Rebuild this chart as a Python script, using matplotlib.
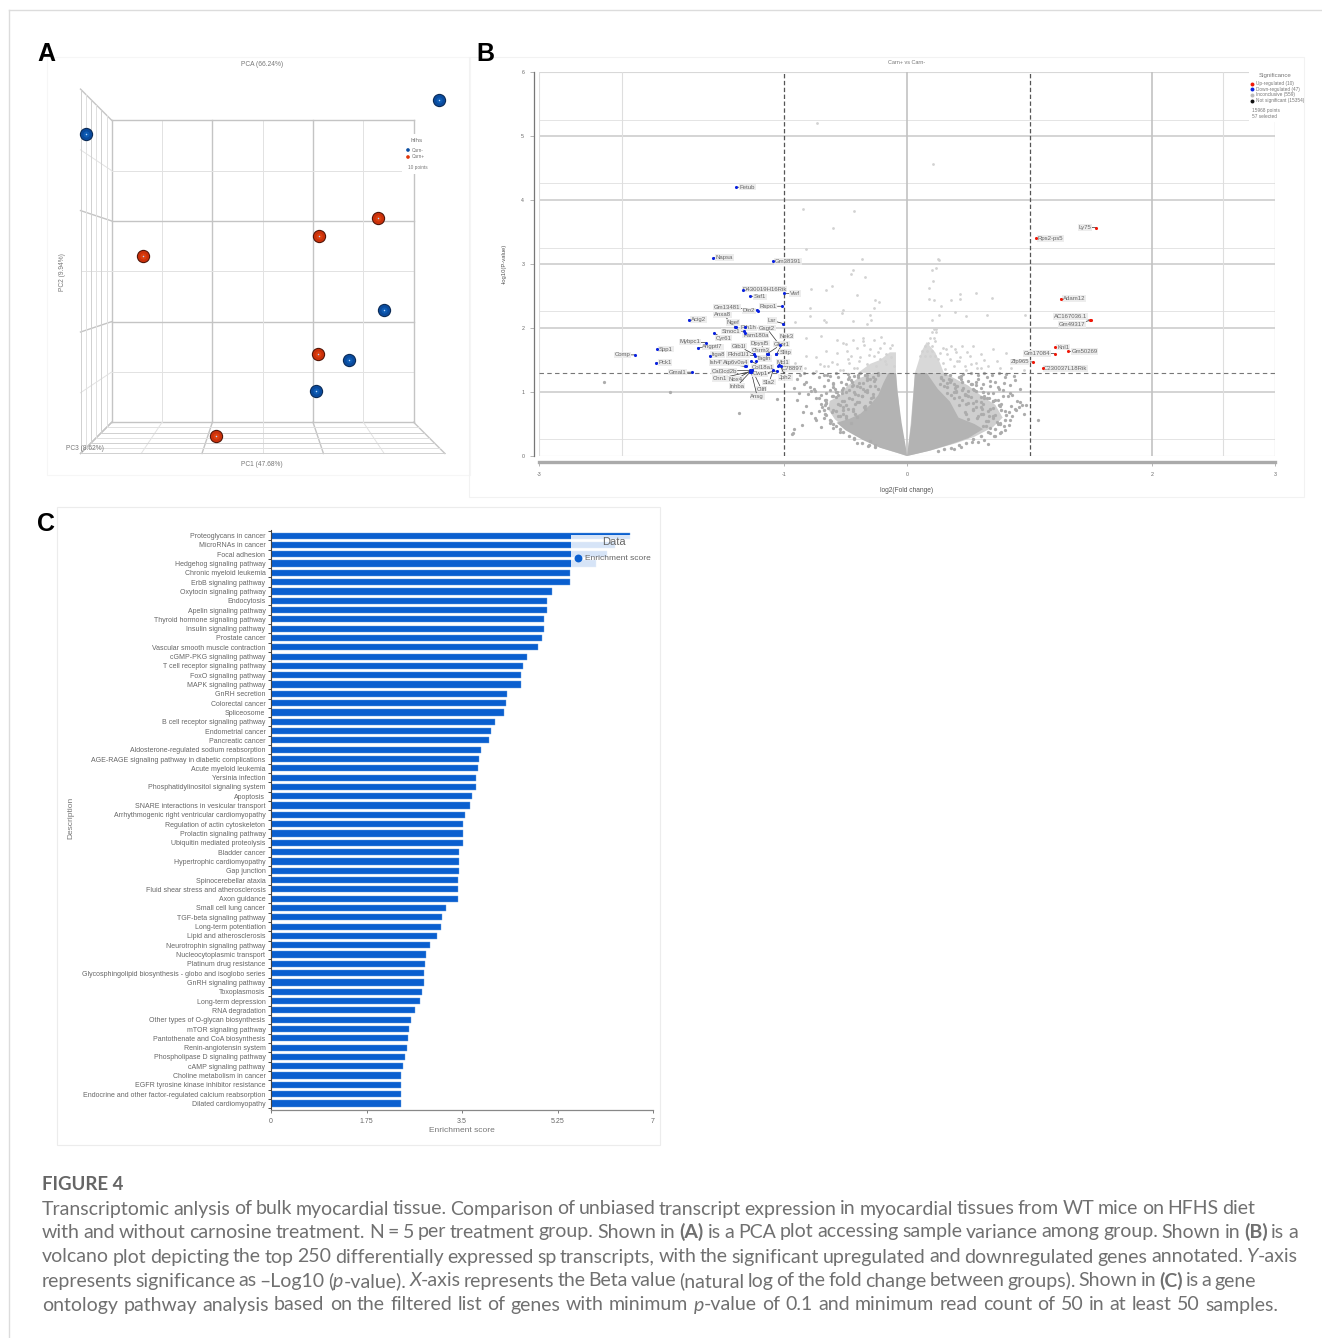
import re
import matplotlib
matplotlib.use('Agg')
import matplotlib.pyplot as plt
from matplotlib.patches import Rectangle

W, H = 1322, 1338
plt.rcParams['font.family'] = ['Liberation Sans', 'DejaVu Sans']

# panel A, PCA samples
blue_pc1 = [3.50, -3.51, 2.42, 1.71, 1.05]
blue_pc2 = [3.40, 2.73, -0.77, -1.77, -2.38]
red_pc1 = [2.29, 1.12, -2.37, 1.10, -0.92]
red_pc2 = [1.05, 0.70, 0.31, -1.64, -3.27]

# panel B, labelled genes
down_genes = ['Fetub', 'Napsa', 'Gm38391', 'D430019H16Rik', 'Saf1', 'Vwf', 'Rspo1', 'Gm13481', 'Dio2', 'Anxa8',
              'Acig2', 'Lsr', 'Ngef', 'Smoc1', 'Pth1h', 'Gsgt2', 'Fam180a', 'Cyr61', 'Mybpc1', 'Angptl7',
              'Spp1', 'Comp', 'Pck1', 'Itga8', 'Pkhd1l1', 'Gtb1l', 'Dpysl5', 'Chrm3', 'Nek3', 'Glipr1',
              'Slitp', 'Tagln', 'Mcl1', 'Ish4"', 'Atp6v0a4', 'Col18a1', 'C78897', 'Cal3cd2b', 'Cnn1', 'Nox4',
              'Inhba', 'Cilfl', 'Ansg', 'Sla2', 'Cwp1', 'Jph2', 'Gmal1']
down_x = [-1.39, -1.578, -1.091, -1.341, -1.279, -1.001, -1.018, -1.22, -1.214, -1.39,
          -1.78, -1.01, -1.40, -1.328, -1.322, -1.037, -1.322, -1.575, -1.641, -1.706,
          -2.038, -2.215, -2.046, -1.608, -1.238, -1.249, -1.135, -1.13, -1.064, -1.145,
          -1.064, -1.227, -1.042, -1.32, -1.314, -1.268, -1.05, -1.28, -1.275, -1.265,
          -1.28, -1.26, -1.27, -1.091, -1.06, -1.03, -1.755]
down_y = [4.20, 3.10, 3.04, 2.59, 2.50, 2.54, 2.34, 2.28, 2.27, 2.01,
          2.13, 2.07, 2.01, 1.95, 2.02, 1.73, 1.92, 1.92, 1.77, 1.69,
          1.67, 1.58, 1.46, 1.57, 1.57, 1.59, 1.59, 1.59, 1.59, 1.59,
          1.59, 1.49, 1.42, 1.40, 1.40, 1.48, 1.40, 1.34, 1.32, 1.34,
          1.31, 1.34, 1.32, 1.34, 1.33, 1.40, 1.31]
down_dx = [11, 11, 15, 22, 10, 11, -14, -30, -9, -14,
           10, -11, -2, -13, 4, -13, 11, 10, -16, 15,
           9, -13, 9, 8, -17, -15, -8, -8, 10, 15,
           9, 8, 4, -29, -10, 11, 14, -26, -31, -16,
           -13, 9, 6, -4, -17, 5, -14]
down_dy = [0, 0, 0, 1, -1, 0, 0, 3, 0, 13,
           0, 3, 5, 0, -1, 17, -2, -5, 1, 1,
           0, 0, 0, 1, 1, 8, 11, 4, 18, 10,
           2, 2, 3, 4, 4, -6, -2, -1, -7, -9,
           -14, -19, -25, -12, -3, -11, 0]

up_genes = ['Ly75', 'Rps2-ps5', 'Adam12', 'AC167036.1', 'Gm49317', 'Knl1', 'Gm50269', 'Gm17084', 'Zfp965', 'C230037L18Rik']
up_x = [1.54, 1.048, 1.254, 1.494, 1.50, 1.208, 1.309, 1.203, 1.026, 1.105]
up_y = [3.57, 3.40, 2.46, 2.12, 2.12, 1.70, 1.636, 1.60, 1.47, 1.37]
up_dx = [-11, 15, 13, -20, -19, 8, 17, -18, -13, 23]
up_dy = [0, 0, 0, 4, -4, 0, 0, 0, 0, 0]

# panel B, outlines of the volcano: solid part and the mottled ring round it
core_left_x = [0, -0.08, -0.22, -0.36, -0.50, -0.574, -0.47, -0.38, -0.30, -0.235, -0.19, -0.15, -0.09, -0.08, -0.044, -0.011]
core_left_y = [0, 0.05, 0.13, 0.25, 0.40, 0.52, 0.58, 0.66, 0.80, 0.95, 1.15, 1.30, 1.30, 1.04, 0.52, 0.156]
core_right_x = [0, 0.011, 0.035, 0.065, 0.16, 0.25, 0.35, 0.42, 0.55, 0.62, 0.50, 0.35, 0.18, 0.07]
core_right_y = [0, 0.156, 0.50, 1.30, 1.30, 1.05, 0.85, 0.60, 0.50, 0.42, 0.28, 0.18, 0.08, 0.03]
ring_left_x = [0, -0.22, -0.36, -0.49, -0.588, -0.642, -0.63, -0.547, -0.49, -0.41, -0.275, -0.09, -0.05]
ring_left_y = [0, 0.13, 0.26, 0.417, 0.573, 0.73, 0.86, 0.94, 1.09, 1.20, 1.30, 1.30, 0.5]
ring_right_x = [0, 0.20, 0.40, 0.55, 0.70, 0.78, 0.72, 0.60, 0.50, 0.40, 0.30, 0.065, 0.03]
ring_right_y = [0, 0.09, 0.20, 0.30, 0.45, 0.60, 0.80, 0.95, 1.10, 1.20, 1.30, 1.30, 0.5]
light_left_x = [-0.40, -0.30, -0.22, -0.14, -0.09, -0.09]
light_left_y = [1.30, 1.44, 1.50, 1.62, 1.62, 1.30]
light_right_x = [0.065, 0.12, 0.16, 0.23, 0.27, 0.30]
light_right_y = [1.30, 1.64, 1.78, 1.62, 1.45, 1.30]

# panel B, grey points
incon_x = [-0.73, 0.21, -0.85, -0.43, -0.60, -0.82, -0.37, 0.25, 0.26, 0.24, 0.20, -0.44, -0.46, -0.34, 0.21, -0.61, -0.66, -0.78, 0.18,
           -0.41, 0.43, 0.56, 0.69, 0.43, 0.36, 0.18, 0.22, -0.26, -0.23, 0.28, -0.79, -0.52, -0.53, -0.27, 0.39, -0.79, -0.68, -0.66,
           -0.91, -0.29, 0.20, 0.48, 0.96, 0.65, 0.26, -0.30, -0.33, -0.44, 0.22, 0.24, 0.20, 0.24, 0.19, 0.22, 0.23, 0.17, 0.15, 0.20,
           0.12, 0.16, 0.20, 0.11, 0.15, 0.19, 0.23, 0.27, 0.32, 0.39, 0.45, 0.54, 0.35, 0.43, 0.51, 0.60, 0.70, 0.81, 0.38, 0.47, 0.57,
           0.66, 0.76, 0.85, 0.95, -0.82, -0.70, -0.57, -0.52, -0.44, -0.36, -0.27, -0.19, -0.14, -0.22, -0.30, -0.41, -0.49, -0.57,
           -0.66, -0.74, -0.82, -0.91, -0.68, -0.57, -0.47, -0.38, -0.27, -0.17, -0.13, -0.22, -0.33, -0.25, -0.17, -0.11, -0.41, -0.52,
           -0.74, -0.83, -0.35, -0.31, -0.24, -0.18, -0.39, -0.46, 0.29, 0.33, 0.41, 0.49, 0.56, 0.31,
           -0.61, -0.48, -0.43, -0.55, -0.64, -0.71, -0.50, -0.36, -0.21, -0.12, 0.36, 0.42, 0.48, 0.63, 0.73, 0.52, 0.29, 0.25, 0.40, 0.60]
incon_y = [5.21, 4.57, 3.86, 3.83, 3.56, 3.23, 3.08, 3.08, 3.06, 2.94, 2.90, 2.90, 2.84, 2.80, 2.74, 2.66, 2.60, 2.61, 2.62,
           2.51, 2.53, 2.54, 2.47, 2.46, 2.44, 2.45, 2.43, 2.43, 2.41, 2.35, 2.31, 2.28, 2.24, 2.32, 2.25, 2.19, 2.12, 2.10,
           2.10, 2.13, 2.13, 2.19, 2.21, 2.21, 2.21, 2.21, 2.06, 2.11, 1.98, 1.99, 1.93, 1.93, 1.85, 1.85, 1.80, 1.77, 1.72, 1.72,
           1.64, 1.64, 1.64, 1.56, 1.56, 1.56, 1.56, 1.61, 1.67, 1.67, 1.72, 1.72, 1.51, 1.54, 1.56, 1.59, 1.67, 1.61, 1.41, 1.41, 1.38,
           1.41, 1.38, 1.38, 1.35, 1.85, 1.88, 1.82, 1.77, 1.82, 1.85, 1.82, 1.77, 1.69, 1.69, 1.67, 1.69, 1.64, 1.61,
           1.64, 1.54, 1.56, 1.46, 1.41, 1.43, 1.46, 1.54, 1.56, 1.59, 1.54, 1.51, 1.43, 1.41, 1.43, 1.41, 1.38, 1.35,
           1.33, 1.38, 1.74, 1.58, 1.63, 1.48, 1.49, 1.57, 1.46, 1.59, 1.48, 1.62, 1.46, 1.36,
           1.47, 1.52, 1.37, 1.34, 1.40, 1.44, 1.75, 1.79, 1.86, 1.74, 1.72, 1.48, 1.35, 1.50, 1.48, 1.44, 1.68, 1.52, 1.62, 1.38]
ns_x = [-0.90, -0.82, -0.72, -0.64, -0.56, -0.48, -0.39, -0.92, -0.84, -0.76, -0.68, -0.60, -0.52, -0.45, -0.33,
        -0.88, -0.78, -0.70, -0.63, -0.56, -0.50, -0.42, -0.36, -0.29, -0.90, -0.74, -0.66, -0.58, -0.51, -0.45, -0.37, -0.30,
        -0.82, -0.70, -0.64, -0.55, -0.48, -0.42, -0.35, -0.78, -0.72, -0.66, -0.60, -0.52, -0.44, -0.74, -0.68, -0.62, -0.56, -0.50,
        -0.86, -0.70, -0.63, -0.92, -0.60, -0.55, -0.93, -0.43, -0.41, -0.30, -0.32, -0.26, -2.47, -1.93, -1.37, -1.06, -0.94, -0.79,
        -0.75, -0.58, -0.46, -0.61, -0.41, -0.34, -0.52, -0.67, -0.39, -0.44, -0.27, -0.24, -0.87, -0.81, -0.85,
        0.28, 0.36, 0.44, 0.50, 0.58, 0.65, 0.72, 0.80, 0.88, 0.30, 0.38, 0.46, 0.53, 0.60, 0.68, 0.75, 0.84, 0.92,
        0.33, 0.40, 0.48, 0.56, 0.63, 0.70, 0.78, 0.86, 0.38, 0.45, 0.52, 0.60, 0.67, 0.74, 0.82, 0.90, 0.42, 0.50, 0.56, 0.62,
        0.70, 0.77, 0.85, 0.92, 0.47, 0.54, 0.60, 0.66, 0.72, 0.80, 0.88, 0.94, 0.50, 0.58, 0.64, 0.70, 0.76, 0.84, 0.62, 0.68, 0.74,
        0.80, 0.68, 0.72, 1.07, 0.77, 0.76, 0.58, 0.53, 0.44, 0.38, 0.63, 0.71, 0.66, 0.83, 0.95, 0.31, 0.27,
        -0.69, -0.66, -0.72, -0.61, -0.57, -0.53, -0.60, -0.46, -0.40, -0.33, -0.65, -0.60, -0.54, -0.47, -0.41, -0.36, -0.30, -0.26,
        -0.77, -0.68, -0.63, -0.58, -0.48, -0.43, -0.38, -0.33, -0.28, -0.24, -0.84, -0.75, -0.66, -0.59, -0.53, -0.47, -0.40, -0.34, -0.28,
        0.46, 0.52, 0.58, 0.63, 0.69, 0.75, 0.81, 0.87, 0.56, 0.62, 0.68, 0.74, 0.79, 0.84, 0.89, 0.40, 0.47, 0.54, 0.60, 0.66, 0.72, 0.78,
        0.33, 0.39, 0.44, 0.50, 0.56, 0.63, 0.70, 0.76, 0.83, 0.28, 0.35, 0.41, 0.47, 0.54, 0.61, 0.67, 0.73, 0.79, 0.86, 0.91, 0.97]
ns_y = [1.21, 1.16, 1.24, 1.19, 1.23, 1.20, 1.14, 1.07, 1.12, 1.05, 1.10, 1.14, 1.06, 1.09, 1.03,
        0.98, 1.01, 0.95, 1.03, 0.96, 1.00, 0.97, 1.04, 0.91, 0.87, 0.90, 0.83, 0.92, 0.86, 0.89, 0.93, 0.84,
        0.78, 0.81, 0.75, 0.80, 0.73, 0.82, 0.76, 0.67, 0.71, 0.64, 0.72, 0.65, 0.70, 0.57, 0.60, 0.54, 0.62, 0.59,
        0.49, 0.46, 0.51, 0.42, 0.44, 0.38, 0.36, 0.26, 0.21, 0.23, 0.15, 0.17, 1.15, 1.00, 0.67, 0.89, 0.34, 1.08,
        0.59, 0.47, 0.52, 0.68, 0.61, 0.74, 0.77, 0.88, 0.85, 1.11, 1.17, 1.26, 1.27, 0.97, 0.69,
        1.22, 1.18, 1.25, 1.17, 1.21, 1.24, 1.16, 1.23, 1.19, 1.10, 1.13, 1.06, 1.12, 1.07, 1.09, 1.04, 1.11, 1.05,
        0.99, 1.02, 0.96, 1.01, 0.94, 0.98, 1.03, 0.95, 0.90, 0.87, 0.92, 0.85, 0.91, 0.88, 0.93, 0.86, 0.79, 0.83, 0.76, 0.81,
        0.75, 0.82, 0.78, 0.84, 0.68, 0.73, 0.66, 0.71, 0.64, 0.70, 0.74, 0.80, 0.58, 0.62, 0.55, 0.60, 0.52, 0.57, 0.47, 0.44, 0.50,
        0.41, 0.36, 0.32, 0.56, 0.38, 0.36, 0.22, 0.22, 0.14, 0.11, 0.25, 0.31, 0.18, 0.48, 0.66, 1.28, 1.13,
        0.77, 0.83, 0.91, 0.94, 1.00, 0.86, 1.13, 1.18, 1.26, 1.22, 1.27, 1.08, 1.15, 1.24, 1.09, 1.14, 1.20, 1.10,
        1.29, 1.27, 1.25, 1.30, 1.28, 1.25, 1.30, 1.27, 1.24, 1.29, 1.30, 1.02, 0.98, 1.05, 0.99, 1.03, 0.95, 1.01, 0.97,
        1.28, 1.30, 1.27, 1.29, 1.26, 1.30, 1.28, 1.25, 1.15, 1.12, 1.17, 1.08, 1.14, 0.99, 0.72, 1.00, 0.97, 1.04, 0.92, 0.98, 0.88, 0.93,
        1.14, 1.07, 1.20, 1.02, 1.11, 0.90, 0.86, 0.78, 0.69, 1.24, 1.16, 1.09, 0.95, 0.83, 0.74, 0.62, 0.53, 0.47, 0.63, 0.76, 0.79]
# points along the rim of the cloud and over the mottled ring
rim_x = [-0.26, -0.31, -0.37, -0.43, -0.47, -0.52, -0.55, -0.60, -0.63, -0.67, -0.68, -0.67, -0.66, -0.60, -0.58, -0.53, -0.50, -0.45, -0.40, -0.34,
         -0.55, -0.58, -0.52, -0.56, -0.50, -0.44, -0.47, -0.41, -0.37, -0.43, -0.33, -0.38, -0.30, -0.33, -0.26, -0.24, -0.28, -0.34, -0.42, -0.50,
         0.25, 0.30, 0.36, 0.42, 0.48, 0.54, 0.60, 0.66, 0.72, 0.76, 0.80, 0.81, 0.77, 0.75, 0.70, 0.65, 0.62, 0.55, 0.52, 0.45, 0.42, 0.35,
         0.66, 0.70, 0.62, 0.68, 0.60, 0.54, 0.56, 0.48, 0.50, 0.42, 0.45, 0.38, 0.40, 0.33, 0.34, 0.29, 0.48, 0.57, 0.64, 0.36]
rim_y = [0.14, 0.17, 0.20, 0.28, 0.31, 0.38, 0.42, 0.50, 0.56, 0.66, 0.72, 0.80, 0.88, 0.93, 1.00, 1.03, 1.12, 1.15, 1.24, 1.27,
         0.62, 0.70, 0.72, 0.82, 0.80, 0.74, 0.90, 0.85, 0.94, 1.00, 1.00, 1.08, 1.10, 1.18, 1.20, 1.05, 0.92, 0.78, 0.66, 0.62,
         0.08, 0.11, 0.13, 0.17, 0.21, 0.26, 0.31, 0.37, 0.42, 0.50, 0.57, 0.64, 0.72, 0.80, 0.86, 0.91, 1.00, 1.03, 1.12, 1.15, 1.24, 1.26,
         0.55, 0.62, 0.66, 0.74, 0.76, 0.72, 0.86, 0.82, 0.94, 0.92, 1.03, 1.00, 1.10, 1.08, 1.20, 1.18, 0.66, 0.60, 0.47, 0.95]

# panel C
pathways = ['Proteoglycans in cancer', 'MicroRNAs in cancer', 'Focal adhesion', 'Hedgehog signaling pathway',
            'Chronic myeloid leukemia', 'ErbB signaling pathway', 'Oxytocin signaling pathway', 'Endocytosis',
            'Apelin signaling pathway', 'Thyroid hormone signaling pathway', 'Insulin signaling pathway', 'Prostate cancer',
            'Vascular smooth muscle contraction', 'cGMP-PKG signaling pathway', 'T cell receptor signaling pathway',
            'FoxO signaling pathway', 'MAPK signaling pathway', 'GnRH secretion', 'Colorectal cancer', 'Spliceosome',
            'B cell receptor signaling pathway', 'Endometrial cancer', 'Pancreatic cancer',
            'Aldosterone-regulated sodium reabsorption', 'AGE-RAGE signaling pathway in diabetic complications',
            'Acute myeloid leukemia', 'Yersinia infection', 'Phosphatidylinositol signaling system', 'Apoptosis',
            'SNARE interactions in vesicular transport', 'Arrhythmogenic right ventricular cardiomyopathy',
            'Regulation of actin cytoskeleton', 'Prolactin signaling pathway', 'Ubiquitin mediated proteolysis',
            'Bladder cancer', 'Hypertrophic cardiomyopathy', 'Gap junction', 'Spinocerebellar ataxia',
            'Fluid shear stress and atherosclerosis', 'Axon guidance', 'Small cell lung cancer', 'TGF-beta signaling pathway',
            'Long-term potentiation', 'Lipid and atherosclerosis', 'Neurotrophin signaling pathway',
            'Nucleocytoplasmic transport', 'Platinum drug resistance', 'Glycosphingolipid biosynthesis - globo and isoglobo series',
            'GnRH signaling pathway', 'Toxoplasmosis', 'Long-term depression', 'RNA degradation',
            'Other types of O-glycan biosynthesis', 'mTOR signaling pathway', 'Pantothenate and CoA biosynthesis',
            'Renin-angiotensin system', 'Phospholipase D signaling pathway', 'cAMP signaling pathway',
            'Choline metabolism in cancer', 'EGFR tyrosine kinase inhibitor resistance',
            'Endocrine and other factor-regulated calcium reabsorption', 'Dilated cardiomyopathy']
scores = [6.57, 6.30, 6.15, 5.95, 5.475, 5.475, 5.15, 5.06, 5.06, 5.01, 5.00, 4.97, 4.90, 4.69, 4.61, 4.59, 4.58,
          4.33, 4.31, 4.27, 4.11, 4.04, 3.99, 3.84, 3.82, 3.80, 3.76, 3.76, 3.68, 3.64, 3.56, 3.52, 3.52, 3.51,
          3.44, 3.44, 3.44, 3.43, 3.43, 3.43, 3.21, 3.14, 3.12, 3.04, 2.92, 2.84, 2.82, 2.81, 2.80, 2.77, 2.73,
          2.64, 2.57, 2.52, 2.51, 2.50, 2.45, 2.42, 2.38, 2.38, 2.38, 2.38]


def px_axes(l, t, r, b):
    return fig.add_axes([l / W, 1 - b / H, (r - l) / W, (b - t) / H])


fig = plt.figure(figsize=(W / 100, H / 100), dpi=100, facecolor='white')

# ---- A
unit = 50.33
cx, cy = 262.7, 271.3
axa = px_axes(47, 57, 470, 475)
axa.set_xlim((47 - cx) / unit, (470 - cx) / unit)
axa.set_ylim((cy - 475) / unit, (cy - 57) / unit)
axa.axis('off')
near = 3.62 / 3
for k in range(-3, 4):
    dark = k % 2 != 0
    col = '#c4c4c4' if dark else '#e2e2e2'
    lw = 1.0 if dark else 0.7
    axa.plot([k, k], [-3, 3], color=col, lw=lw)
    axa.plot([-3, 3], [k, k], color=col, lw=lw)
    # side wall and floor going to the near plane
    axa.plot([-3, -3 * near], [k, k * near], color=col, lw=lw)
    axa.plot([k, k * near], [-3, -3 * near], color=col, lw=lw)
for d in range(1, 7):
    s = 1 + (near - 1) * d / 6
    col = '#d0d0d0' if d % 2 == 0 else '#e0e0e0'
    axa.plot([-3 * s, -3 * s], [-3 * s, 3 * s], color=col, lw=0.7)
    axa.plot([-3 * s, 3 * s], [-3 * s, -3 * s], color=col, lw=0.7)
for px_, py_, dark_c, main_c, lite_c in [(blue_pc1, blue_pc2, '#0c2a52', '#0a4a9c', '#0e5cb4'),
                                         (red_pc1, red_pc2, '#4a1408', '#c9300a', '#dc3f0e')]:
    axa.scatter(px_, py_, s=92, color=dark_c, lw=0, zorder=5, clip_on=False)
    axa.scatter(px_, py_, s=66, color=main_c, lw=0, zorder=6, clip_on=False)
    axa.scatter(px_, py_, s=20, color=lite_c, lw=0, zorder=7, clip_on=False)
    axa.scatter(px_, py_, s=1.2, color='#bcd8ff', lw=0, zorder=8, clip_on=False)

# ---- B
axb = px_axes(539, 72, 1275, 456)
axb.set_xlim(-3, 3)
axb.set_ylim(0, 6)
axb.patch.set_alpha(0)
for sp in ['top', 'right']:
    axb.spines[sp].set_visible(False)
axb.spines['left'].set_position(('outward', 3.6))
axb.spines['left'].set_color('#777777')
axb.spines['left'].set_linewidth(0.9)
axb.spines['bottom'].set_position(('outward', 4.5))
axb.spines['bottom'].set_color('#aaaaaa')
axb.spines['bottom'].set_linewidth(2.4)
axb.set_xticks([-3, -1, 0, 2, 3])
axb.set_yticks([0, 1, 2, 3, 4, 5, 6])
axb.tick_params(axis='both', labelsize=3.8, labelcolor='#666666', color='#999999', length=3, width=0.5, pad=4)
axb.set_xticklabels(['-3', '-1', '0', '2', '3'])
for yy in [1, 2, 3, 4, 5]:
    axb.axhline(yy, color='#c9c9c9', lw=1.1, zorder=1)
for yy in [0.26, 2.27, 3.25, 4.26, 5.25]:
    axb.axhline(yy, color='#e4e4e4', lw=0.7, zorder=1)
axb.axhline(6, color='#d8d8d8', lw=0.8, zorder=1)
axb.axhline(0, color='#d8d8d8', lw=0.8, zorder=1)
for xx in [-3, -2.32, 2.58]:
    axb.axvline(xx, color='#dedede', lw=0.8, zorder=1)
axb.axvline(3, color='#cccccc', lw=0.9, zorder=1)
for xx in [0, 2]:
    axb.axvline(xx, color='#c2c2c2', lw=1.2, zorder=1)
axb.fill(ring_left_x, ring_left_y, color='#cfcfcf', lw=0, zorder=2)
axb.fill(ring_right_x, ring_right_y, color='#cfcfcf', lw=0, zorder=2)
axb.fill(core_left_x, core_left_y, color='#b3b3b3', lw=0, zorder=2)
axb.fill(core_right_x, core_right_y, color='#b3b3b3', lw=0, zorder=2)
axb.fill(light_left_x, light_left_y, color='#d8d8d8', lw=0, zorder=2)
axb.fill(light_right_x, light_right_y, color='#d8d8d8', lw=0, zorder=2)
axb.scatter(ns_x, ns_y, s=5.5, color='#acacac', lw=0, zorder=3)
axb.scatter(rim_x, rim_y, s=6, color='#acacac', lw=0, zorder=3)
axb.scatter(incon_x, incon_y, s=4, color='#d2d2d2', lw=0, zorder=3)
for xx in [-1, 1]:
    axb.axvline(xx, color='#555555', lw=0.9, ls=(0, (3.5, 2)), zorder=4)
axb.axhline(1.3, color='#777777', lw=0.8, ls=(0, (4, 3)), zorder=4)
axb.scatter(down_x, down_y, s=5, color='#0a22e0', lw=0, zorder=6)
axb.scatter(up_x, up_y, s=5, color='#f01808', lw=0, zorder=6)
box = dict(boxstyle='square,pad=0.12', fc='#ececec', ec='none', alpha=0.9)
for names, xs, ys, dxs, dys in [(down_genes, down_x, down_y, down_dx, down_dy), (up_genes, up_x, up_y, up_dx, up_dy)]:
    for i in range(len(names)):
        axb.annotate(names[i], (xs[i], ys[i]), xytext=(dxs[i], dys[i]), textcoords='offset pixels',
                     ha='center', va='center', fontsize=4.3, color='#666666', bbox=box, zorder=5,
                     arrowprops=dict(arrowstyle='-', color='#333333', lw=0.5, shrinkA=0, shrinkB=0))

# ---- C
axc = px_axes(271, 530, 653, 1110)
pos = list(range(len(pathways)))
axc.barh(pos, scores, height=0.66, color='#0a5fcf', edgecolor='#6a9fe0', linewidth=0.3)
axc.set_xlim(0, 7)
axc.set_ylim(len(pathways) - 0.3, -0.6)
axc.patch.set_alpha(0)
for sp in ['top', 'right']:
    axc.spines[sp].set_visible(False)
axc.spines['left'].set_color('#444444')
axc.spines['left'].set_linewidth(0.8)
axc.spines['bottom'].set_color('#888888')
axc.spines['bottom'].set_linewidth(0.9)
axc.set_yticks(pos)
axc.set_yticklabels(pathways)
axc.set_yticks([p - 0.5 for p in pos] + [len(pathways) - 0.5], minor=True)
axc.tick_params(axis='y', which='major', length=0, pad=4, labelsize=5.05, labelcolor='#666666')
axc.tick_params(axis='y', which='minor', length=2.5, width=0.6, color='#333333')
axc.set_xticks([0, 1.75, 3.5, 5.25, 7])
axc.set_xticklabels(['0', '1.75', '3.5', '5.25', '7'])
axc.tick_params(axis='x', length=2.5, width=0.6, color='#666666', labelsize=5.0, labelcolor='#666666', pad=3)

# ---- overlay in page pixels: frames, legends, titles, caption
top = fig.add_axes([0, 0, 1, 1], zorder=10)
top.set_xlim(0, W)
top.set_ylim(H, 0)
top.axis('off')
top.patch.set_alpha(0)
top.plot([9, 9], [10, H], color='#dcdcdc', lw=1.0)
top.plot([9, W], [10, 10], color='#dcdcdc', lw=1.0)
for l, t, r, b, col in [(47, 57, 470, 475, '#f6f6f6'), (469, 57, 1304, 497, '#f2f2f2'), (57, 507, 660, 1145, '#ececec')]:
    top.add_patch(Rectangle((l, t), r - l, b - t, fc='none', ec=col, lw=0.8))
for s, x, y in [('A', 37, 54), ('B', 476, 54), ('C', 37, 524)]:
    top.text(x, y, s, fontsize=18, fontweight='bold', color='black', va='center', ha='left')

g = '#777777'
top.text(262, 64, 'PCA (66.24%)', fontsize=4.8, color=g, ha='center', va='center')
top.text(63, 272, 'PC2 (9.94%)', fontsize=4.8, color=g, ha='center', va='center', rotation=90)
top.text(262, 465, 'PC1 (47.68%)', fontsize=4.8, color=g, ha='center', va='center')
top.text(85, 448, 'PC3 (8.62%)', fontsize=4.8, color=g, ha='center', va='center')
top.add_patch(Rectangle((402, 134), 24, 40, fc='white', ec='none'))
top.text(417, 140, 'hfhs', fontsize=4.6, color=g, ha='center', va='center')
top.scatter([408, 408], [150, 157], s=7, color=['#0b4ea2', '#e0360b'], lw=0)
top.text(412, 150, 'Carn-', fontsize=3.4, color=g, va='center')
top.text(412, 157, 'Carn+', fontsize=3.4, color=g, va='center')
top.text(417.5, 168, '10 points', fontsize=3.4, color=g, ha='center', va='center')

top.text(907, 63, 'Carn+ vs Carn-', fontsize=4.0, color=g, ha='center', va='center')
top.text(504, 264, '-log10(P-value)', fontsize=4.2, color='#555555', ha='center', va='center', rotation=90)
top.text(907, 490, 'log2(Fold change)', fontsize=4.8, color='#555555', ha='center', va='center')
top.add_patch(Rectangle((1249, 66), 52, 56, fc='white', ec='none'))
top.text(1275, 75, 'Significance', fontsize=4.4, color=g, ha='center', va='center')
sig_labels = ['Up-regulated (10)', 'Down-regulated (47)', 'Inconclusive (559)', 'Not significant (15354)']
sig_cols = ['#f01808', '#0a22e0', '#bbbbbb', '#111111']
sig_y = [83.7, 89.2, 94.8, 100.7]
for lab, c, y in zip(sig_labels, sig_cols, sig_y):
    top.scatter([1252], [y], s=8, color=c, lw=0)
    top.text(1256, y, lab, fontsize=3.4, color=g, va='center')
top.text(1252, 110.7, '15968 points', fontsize=3.4, color=g, va='center')
top.text(1252, 116, '57 selected', fontsize=3.4, color=g, va='center')

top.text(71, 818, 'Description', fontsize=6.0, color=g, ha='center', va='center', rotation=90)
top.text(462, 1131, 'Enrichment score', fontsize=6.0, color=g, ha='center', va='center')
top.add_patch(Rectangle((571, 534.6), 84, 34, fc='white', ec='none', alpha=0.84))
top.text(614, 542, 'Data', fontsize=8.0, color='#666666', ha='center', va='center')
top.scatter([578], [558], s=32, color='#0a5fcf', lw=0)
top.text(585, 558, 'Enrichment score', fontsize=6.0, color='#666666', va='center')

renderer = fig.canvas.get_renderer()
cap_col = '#707070'
cap_size = 14.0


def measure(s, **kw):
    a = top.text(0, 0, s + '|', fontfamily='Lato', fontsize=cap_size, **kw)
    b = top.text(0, 0, '|', fontfamily='Lato', fontsize=cap_size, **kw)
    w = a.get_window_extent(renderer).width - b.get_window_extent(renderer).width
    a.remove()
    b.remove()
    return w


# place word by word so each line ends where it ends in the reference
def cap_line(y, right, parts):
    tokens = []
    for s, kw in parts:
        for tok in re.findall(r'\s+|\S+', s):
            tokens.append((tok, kw))
    total = sum(measure(t, **kw) for t, kw in tokens)
    gaps = sum(1 for t, kw in tokens if t.isspace())
    extra = (right - 42 - total) / gaps
    x = 42
    for t, kw in tokens:
        if t.isspace():
            x += measure(t, **kw) + extra
        else:
            top.text(x, y, t, fontfamily='Lato', fontsize=cap_size, color=cap_col, va='center', **kw)
            x += measure(t, **kw)


plain = {}
bold = {'fontweight': 'bold'}
ital = {'fontstyle': 'italic'}
top.text(42, 1185, 'FIGURE 4', fontfamily='Lato', fontsize=13.4, fontweight='bold', color='#666666', va='center')
cap_line(1209, 1255, [('Transcriptomic anlysis of bulk myocardial tissue. Comparison of unbiased transcript expression in myocardial tissues from WT mice on HFHS diet', plain)])
cap_line(1232, 1298, [('with and without carnosine treatment. N = 5 per treatment group. Shown in ', plain), ('(A)', bold),
                      (' is a PCA plot accessing sample variance among group. Shown in ', plain), ('(B)', bold), (' is a', plain)])
cap_line(1257, 1298, [('volcano plot depicting the top 250 differentially expressed sp transcripts, with the significant upregulated and downregulated genes annotated. ', plain),
                      ('Y', ital), ('-axis', plain)])
cap_line(1281, 1256, [('represents significance as \u2013Log10 (', plain), ('p', ital), ('-value). ', plain), ('X', ital),
                      ('-axis represents the Beta value (natural log of the fold change between groups). Shown in ', plain), ('(C)', bold), (' is a gene', plain)])
cap_line(1305, 1278, [('ontology pathway analysis based on the filtered list of genes with minimum ', plain), ('p', ital),
                      ('-value of 0.1 and minimum read count of 50 in at least 50 samples.', plain)])

fig.savefig('out.png', dpi=100)
